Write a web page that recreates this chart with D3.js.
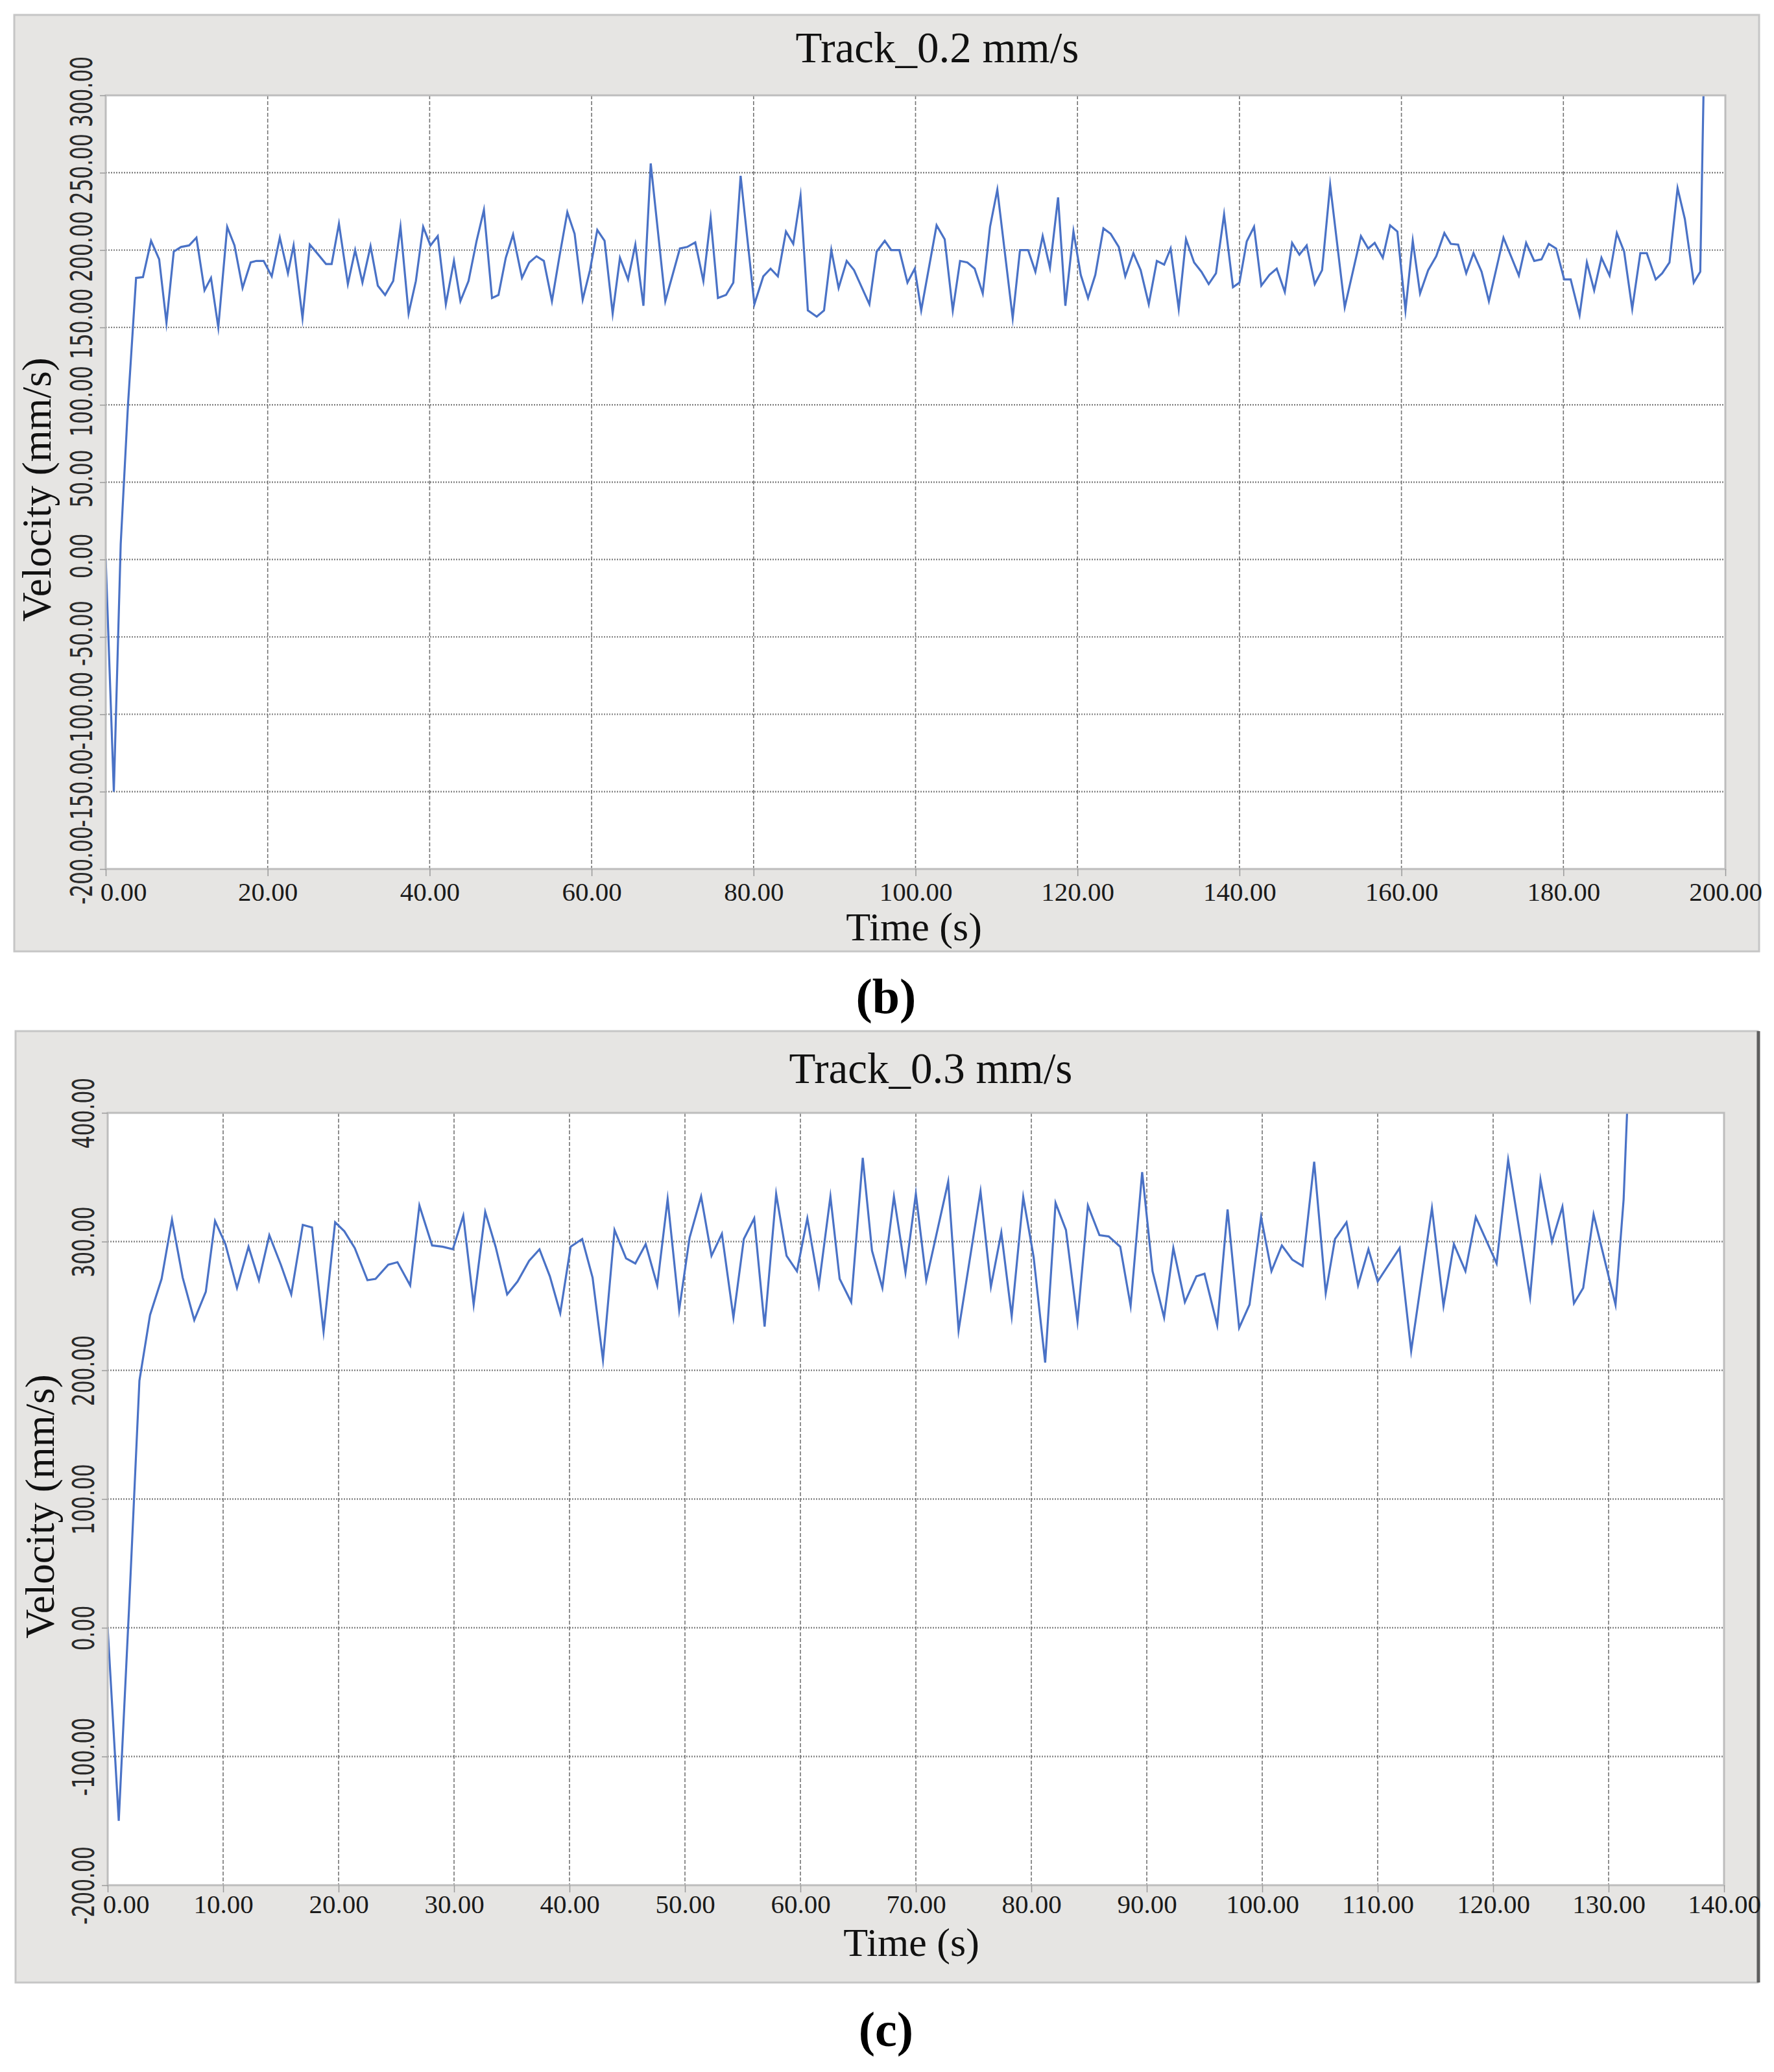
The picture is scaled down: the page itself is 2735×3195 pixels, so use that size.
<!DOCTYPE html>
<html><head><meta charset="utf-8">
<script src="https://cdn.jsdelivr.net/npm/d3@7"></script>
<style>html,body{margin:0;padding:0;background:#fff;}</style>
</head><body><svg id="chart" width="2735" height="3195" xmlns="http://www.w3.org/2000/svg"></svg>
<script>
// ---------- DATA ----------
const timeB = [0,1.0,1.85,2.75,3.75,4.6,5.6,6.6,7.5,8.4,9.3,10.3,11.2,12.2,13.0,13.9,15.0,15.9,16.9,17.9,18.6,19.5,20.5,21.5,22.5,23.2,24.3,25.2,26.1,27.2,27.9,28.8,29.9,30.8,31.7,32.7,33.6,34.5,35.5,36.4,37.4,38.3,39.2,40.1,41.0,42.0,43.0,43.8,44.8,45.8,46.7,47.7,48.5,49.4,50.3,51.4,52.3,53.2,54.1,55.1,56.0,57.0,57.9,58.9,59.8,60.7,61.6,62.6,63.5,64.5,65.4,66.4,67.3,69.1,70.9,71.8,72.8,73.8,74.7,75.6,76.6,77.5,78.4,80.1,81.2,82.1,83.0,84.0,84.9,85.8,86.7,87.8,88.7,89.6,90.5,91.5,92.4,94.3,95.2,96.2,97.0,98.0,99.0,99.9,100.7,102.6,103.6,104.6,105.5,106.4,107.3,108.3,109.2,110.1,112.0,112.9,113.9,114.8,115.7,116.6,117.6,118.5,119.5,120.4,121.3,122.2,123.2,124.1,125.1,125.9,126.9,127.8,128.8,129.8,130.7,131.5,132.5,133.4,134.4,135.3,136.2,137.1,138.1,139.2,140.0,140.9,141.8,142.7,143.7,144.6,145.6,146.5,147.4,148.3,149.3,150.2,151.2,153.0,155.0,155.9,156.7,157.7,158.6,159.5,160.5,161.4,162.3,163.3,164.3,165.3,166.1,167.0,168.0,168.9,169.9,170.8,172.6,174.5,175.4,176.4,177.3,178.2,179.1,180.1,180.9,182.0,182.9,183.8,184.7,185.7,186.6,187.5,188.5,189.5,190.3,191.4,192.2,193.1,194.1,195.0,196.1,196.9,197.3];
const velocityB = [0,-150,10,100,182,182.5,206,194,153,199,202,203,208,174,182,150,215,203,175.5,192,193,193,183,208,185,203,156,203.5,198,191,191,217,178,200,179,202.5,177,171,180,215,159,180,215,203,209,165,193,167,180,206,226,169,171,195,210,182,192,196,193,167,195,224.5,210.5,168,187,213,206,159,195,181,203.5,164,256,167,201,202,205,180,220.6,169,171,179,248,165,183,188,183,212,204,235,161,157,161,200,175.5,193,187,165,199,206,200,200,179,188,161,216,207,161,193,192,188,172,215,239,156,200,200,186,209,188.5,234,164,212,184,169,184,214,210.5,202,183,198,187,165,193,190.6,201,162,207,192,186,178,185,223,176,179,205.6,215,177,184,188,173,204.6,197,203,178,187,242,163,209,201,204.6,195,216,212,161,206,172,187,196,211,204,203.5,185,198,186,167,208,183.5,204.6,193,194,204,201,181,181,158,192,174,195,183.5,211,199,162,198,198,181,185,192,240,220,179,186,300];

const timeC = [0,0.96,1.85,2.75,3.67,4.67,5.57,6.5,7.5,8.5,9.3,10.2,11.2,12.2,13.1,14.0,15.0,15.9,16.9,17.7,18.7,19.7,20.5,21.4,22.5,23.2,24.3,25.1,26.2,27.0,28.1,29.0,29.9,30.8,31.7,32.7,33.6,34.6,35.5,36.5,37.4,38.3,39.2,40.1,41.1,42.0,42.9,43.9,44.9,45.7,46.6,47.6,48.5,49.5,50.4,51.4,52.3,53.2,54.2,55.1,56.0,56.9,57.9,58.8,59.7,60.6,61.6,62.6,63.4,64.4,65.4,66.2,67.1,68.1,69.1,70.0,70.9,72.8,73.7,75.6,76.5,77.4,78.3,79.3,80.2,81.2,82.1,83.0,84.0,84.9,85.9,86.7,87.7,88.6,89.6,90.5,91.5,92.3,93.3,94.3,95.0,96.1,97.0,98.0,98.9,99.9,100.8,101.7,102.6,103.5,104.5,105.5,106.3,107.3,108.3,109.2,110.0,111.9,112.9,114.7,115.7,116.6,117.6,118.5,120.3,121.3,123.2,124.1,125.1,126.0,127.0,127.8,128.7,130.6,131.3,131.6];
const velocityC = [0,-150,15,192,243,271,317,272,239,261,316,298,264,296,270,305,282,259,313,311,230,315,308,295,270,271,282,284,266,328,297,296,294,320,251,323,296,259,269,285,294,273,244.5,296,302,272,208,309,287,283,298,266,333,247,303,335,289,306,241,302,318,234,337,289,277,318,266,335,271,253,365,293,264,335,276,337,270,346.5,231,339,265,307,242,334.5,288,206,330,309,238,328,305,304,296,250,354,277,241,295,253,273,275,235,325,233,251,319,277,297,286,281,362,260,302,315,266,294,269,295,215,326,250,298,277,319,283,363.5,257,348,300,327,252,264,321,251,332.5,400];

const xTicksB = [0,20,40,60,80,100,120,140,160,180,200];
const yTicksB = [-200,-150,-100,-50,0,50,100,150,200,250,300];
const xTicksC = [0,10,20,30,40,50,60,70,80,90,100,110,120,130,140];
const yTicksC = [-200,-100,0,100,200,300,400];

const titles = ["Track_0.2 mm/s", "Track_0.3 mm/s"];
const xAxisTitle = "Time (s)";
const yAxisTitle = "Velocity (mm/s)";
const captions = ["(b)", "(c)"];

// ---------- LAYOUT ----------
const panels = [
  { time: timeB, vel: velocityB, xTicks: xTicksB, yTicks: yTicksB, xDomain: [0,200], yDomain: [-200,300],
    box: {x:22, y:23, w:2690, h:1444}, plot: {l:163, r:2660, t:147, b:1340},
    title: titles[0], titleX: 1445, titleY: 96,
    xLabelDy: 49, firstLabelDx: 27, yLabelDy: -6,
    xTitleX: 1409, xTitleY: 1450, yTitleX: 78, yTitleY: 755,
    caption: captions[0], capX: 1366, capY: 1562, darkRight: false },
  { time: timeC, vel: velocityC, xTicks: xTicksC, yTicks: yTicksC, xDomain: [0,140], yDomain: [-200,400],
    box: {x:24, y:1590, w:2686, h:1467}, plot: {l:166, r:2658, t:1716, b:2907},
    title: titles[1], titleX: 1435, titleY: 1670,
    xLabelDy: 43, firstLabelDx: 28, yLabelDy: 0,
    xTitleX: 1405, xTitleY: 3016, yTitleX: 83, yTitleY: 2323,
    caption: captions[1], capX: 1366, capY: 3155, darkRight: true }
];

const svg = d3.select("#chart");
const serif = "'Liberation Serif', 'Times New Roman', serif";

panels.forEach((p, i) => {
  const g = svg.append("g");
  const x = d3.scaleLinear().domain(p.xDomain).range([p.plot.l, p.plot.r]);
  const y = d3.scaleLinear().domain(p.yDomain).range([p.plot.b, p.plot.t]);

  // panel background
  g.append("rect").attr("x", p.box.x).attr("y", p.box.y).attr("width", p.box.w).attr("height", p.box.h)
    .attr("fill", "#e6e5e3").attr("stroke", "#c6c6c6").attr("stroke-width", 3);
  if (p.darkRight) {
    g.append("line").attr("x1", p.box.x + p.box.w + 1).attr("x2", p.box.x + p.box.w + 1)
      .attr("y1", p.box.y).attr("y2", p.box.y + p.box.h)
      .attr("stroke", "#5e5e5e").attr("stroke-width", 5);
  }

  // plot area
  g.append("rect").attr("x", p.plot.l).attr("y", p.plot.t)
    .attr("width", p.plot.r - p.plot.l).attr("height", p.plot.b - p.plot.t).attr("fill", "#ffffff");

  // gridlines
  const yd = y.domain();
  g.append("g").selectAll("line").data(p.yTicks.filter(d => d !== yd[0] && d !== yd[1])).join("line")
    .attr("x1", p.plot.l).attr("x2", p.plot.r).attr("y1", d => y(d)).attr("y2", d => y(d))
    .attr("stroke", "#858585").attr("stroke-width", 2.4).attr("stroke-dasharray", "2,2");
  const xd = x.domain();
  g.append("g").selectAll("line").data(p.xTicks.filter(d => d !== xd[0] && d !== xd[1])).join("line")
    .attr("x1", d => x(d)).attr("x2", d => x(d)).attr("y1", p.plot.t).attr("y2", p.plot.b)
    .attr("stroke", "#747474").attr("stroke-width", 1.6).attr("stroke-dasharray", "6,3");

  // clip + line
  const clipId = "clip" + i;
  svg.append("defs").append("clipPath").attr("id", clipId).append("rect")
    .attr("x", p.plot.l).attr("y", p.plot.t).attr("width", p.plot.r - p.plot.l).attr("height", p.plot.b - p.plot.t);
  const pts = p.time.map((t, k) => [t, p.vel[k]]);
  const line = d3.line().x(d => x(d[0])).y(d => y(d[1]));
  g.append("path").datum(pts).attr("clip-path", `url(#${clipId})`)
    .attr("d", line).attr("fill", "none").attr("stroke", "#4a72c6").attr("stroke-width", 3.2)
    .attr("stroke-linejoin", "miter").attr("stroke-miterlimit", 10);

  // plot border
  g.append("rect").attr("x", p.plot.l).attr("y", p.plot.t)
    .attr("width", p.plot.r - p.plot.l).attr("height", p.plot.b - p.plot.t)
    .attr("fill", "none").attr("stroke", "#bdbdbd").attr("stroke-width", 3);

  // x axis
  const xAxis = g.append("g").attr("transform", `translate(0,${p.plot.b})`)
    .call(d3.axisBottom(x).tickValues(p.xTicks).tickSize(11).tickFormat(d => d.toFixed(2)));
  xAxis.select(".domain").remove();
  xAxis.selectAll(".tick line").attr("stroke", "#9a9a9a").attr("stroke-width", 1.5);
  xAxis.selectAll(".tick text")
    .attr("y", p.xLabelDy).attr("dy", null)
    .attr("dx", (d, k) => k === 0 ? p.firstLabelDx : 0)
    .attr("font-family", serif).attr("font-size", 41).attr("fill", "#1a1a1a");

  // y axis
  const yAxis = g.append("g").attr("transform", `translate(${p.plot.l},0)`)
    .call(d3.axisLeft(y).tickValues(p.yTicks).tickSize(9).tickFormat(d => d.toFixed(2)));
  yAxis.select(".domain").remove();
  yAxis.selectAll(".tick line").attr("stroke", "#9a9a9a").attr("stroke-width", 1.5);
  yAxis.selectAll(".tick text")
    .attr("x", null).attr("dy", null)
    .attr("text-anchor", "middle")
    .attr("transform", `translate(-21,${p.yLabelDy}) rotate(-90) scale(0.68,1)`)
    .attr("font-family", "'DejaVu Sans', Verdana, sans-serif").attr("font-size", 46).attr("fill", "#2a2a2a");

  // titles
  g.append("text").attr("x", p.titleX).attr("y", p.titleY).attr("text-anchor", "middle")
    .attr("font-family", serif).attr("font-size", 67).attr("fill", "#111").text(p.title);
  g.append("text").attr("x", p.xTitleX).attr("y", p.xTitleY).attr("text-anchor", "middle")
    .attr("font-family", serif).attr("font-size", 62).attr("fill", "#111").text(xAxisTitle);
  g.append("text").attr("transform", `translate(${p.yTitleX},${p.yTitleY}) rotate(-90)`)
    .attr("text-anchor", "middle")
    .attr("font-family", serif).attr("font-size", 63).attr("fill", "#111").text(yAxisTitle);

  // caption
  svg.append("text").attr("x", p.capX).attr("y", p.capY).attr("text-anchor", "middle")
    .attr("font-family", serif).attr("font-weight", "bold").attr("font-size", 76).attr("fill", "#000")
    .text(p.caption);
});
</script>
</body></html>
